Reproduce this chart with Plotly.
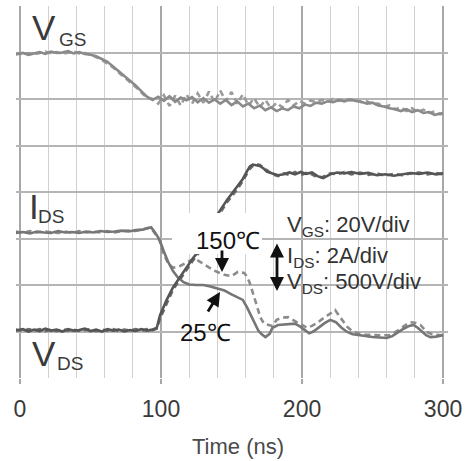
import plotly.graph_objects as go

# ---------------- data (time in ns, level in divisions) ----------------
t_vgs = [-3, 2, 6, 10, 14, 18, 22, 26, 30, 34, 38, 42, 46, 50, 54, 58, 62, 66, 70, 74,
         78, 82, 86, 90, 94, 98, 102, 106, 110, 114, 118, 122, 126, 130, 134, 138, 142,
         146, 150, 154, 158, 162, 166, 170, 174, 178, 182, 186, 190, 194, 198, 202, 206,
         210, 214, 218, 222, 226, 230, 234, 238, 242, 246, 250, 254, 258, 262, 266, 270,
         274, 278, 282, 286, 290, 294, 298, 300]
vgs_25 = [6.96, 6.99, 6.95, 6.98, 7.01, 6.97, 7.02, 6.99, 7.00, 7.03, 6.98, 7.01, 6.97,
          6.95, 6.92, 6.86, 6.80, 6.70, 6.60, 6.50, 6.40, 6.29, 6.17, 6.05, 5.98, 6.05,
          5.96, 6.06, 5.94, 6.03, 5.97, 6.04, 5.93, 6.02, 5.92, 5.99, 5.90, 5.98, 5.87,
          5.95, 5.84, 5.90, 5.80, 5.86, 5.76, 5.82, 5.74, 5.80, 5.76, 5.84, 5.80, 5.88,
          5.85, 5.92, 5.90, 5.95, 5.93, 5.98, 5.95, 5.99, 5.96, 5.94, 5.90, 5.92, 5.86,
          5.84, 5.80, 5.78, 5.74, 5.78, 5.72, 5.76, 5.70, 5.72, 5.66, 5.68, 5.70]
vgs_150 = [6.98, 6.97, 6.99, 6.96, 6.99, 7.02, 6.98, 7.01, 6.97, 7.00, 7.02, 6.98, 6.99,
           6.96, 6.90, 6.84, 6.76, 6.68, 6.57, 6.47, 6.37, 6.26, 6.14, 6.03, 6.00, 5.90,
           6.08, 5.85, 6.07, 5.86, 6.10, 5.90, 6.12, 5.92, 6.16, 5.93, 6.18, 5.95, 6.15,
           5.90, 6.10, 5.86, 6.02, 5.82, 5.98, 5.80, 5.92, 5.82, 5.98, 5.86, 5.96, 5.90,
           5.97, 5.93, 5.98, 5.94, 6.00, 5.96, 6.00, 5.97, 5.98, 5.93, 5.95, 5.89, 5.90,
           5.83, 5.86, 5.78, 5.82, 5.74, 5.80, 5.72, 5.77, 5.70, 5.73, 5.67, 5.69]

t_ids_25 = [-3, 2, 7, 12, 17, 22, 27, 32, 37, 42, 47, 52, 57, 62, 67, 72, 77, 82, 87, 91,
            93, 96, 99, 102, 105, 108.5, 112, 116, 120, 125, 130, 135, 140, 145, 150, 154,
            158, 161, 163, 165, 167, 169, 171, 174, 177, 179, 183, 187, 191, 195, 199, 202,
            205, 208, 212, 216, 220, 224, 228, 232, 236, 240, 245, 250, 255, 260, 264, 268,
            272, 276, 279, 282, 285, 288, 291, 295, 300]
ids_25 = [3.12, 3.14, 3.11, 3.15, 3.13, 3.12, 3.16, 3.13, 3.14, 3.12, 3.15, 3.13, 3.16,
          3.14, 3.15, 3.17, 3.15, 3.18, 3.19, 3.22, 3.24, 3.12, 2.97, 2.72, 2.50, 2.30,
          2.16, 2.06, 2.01, 2.00, 2.00, 1.97, 1.92, 1.88, 1.80, 1.74, 1.68, 1.52, 1.40,
          1.27, 1.13, 1.02, 0.95, 0.88, 0.95, 1.08, 1.14, 1.15, 1.16, 1.17, 1.10, 1.02,
          0.96, 1.00, 1.10, 1.18, 1.25, 1.20, 1.08, 0.99, 0.94, 0.92, 0.90, 0.88, 0.87,
          0.86, 0.90, 0.98, 1.06, 1.12, 1.14, 1.08, 1.00, 0.92, 0.88, 0.89, 0.92]

t_ids_150 = [-3, 2, 7, 12, 17, 22, 27, 32, 37, 42, 47, 52, 57, 62, 67, 72, 77, 82, 87, 91,
             93, 96, 99, 101.5, 105, 108.5, 113.5, 117, 120.5, 124.5, 129, 133, 137, 140,
             145, 150, 154.5, 159, 161, 163, 165, 166.7, 168.5, 170.5, 173, 176, 179, 182,
             186, 190, 193, 196.5, 200, 203.5, 207, 210.5, 214, 218.5, 223.5, 227, 232,
             236, 240, 245, 250, 256, 262, 267, 271.5, 276.5, 280, 284, 288.5, 293, 300]
ids_150 = [3.15, 3.12, 3.16, 3.13, 3.15, 3.14, 3.12, 3.15, 3.12, 3.16, 3.13, 3.15, 3.13,
           3.16, 3.13, 3.16, 3.17, 3.16, 3.20, 3.23, 3.22, 3.10, 2.95, 2.69, 2.47, 2.37,
           2.41, 2.47, 2.52, 2.56, 2.47, 2.39, 2.32, 2.28, 2.22, 2.19, 2.28, 2.26, 2.18,
           2.04, 1.84, 1.68, 1.46, 1.30, 1.17, 1.14, 1.12, 1.25, 1.30, 1.31, 1.26, 1.20,
           1.14, 1.08, 1.12, 1.18, 1.26, 1.35, 1.46, 1.31, 1.10, 1.00, 0.96, 0.93, 0.92,
           0.92, 0.92, 1.00, 1.10, 1.20, 1.19, 1.14, 0.99, 0.93, 0.92]

t_vds = [-3, 2, 6, 10, 14, 18, 22, 26, 30, 34, 38, 42, 46, 50, 54, 58, 62, 66, 70, 74, 78,
         82, 86, 90, 94, 97, 99.3, 104, 108.5, 113.5, 118.4, 122.7, 127.7, 134, 139.7,
         146.8, 153.9, 158, 161, 163, 165, 168, 170, 173, 175, 179, 183, 187, 191, 195,
         199, 203, 207, 211, 215, 220, 225, 230, 235, 241, 247, 253, 259, 265, 271, 277,
         283, 289, 295, 300]
vds_25 = [1.02, 1.05, 1.00, 1.04, 1.01, 1.06, 1.02, 1.04, 1.00, 1.05, 1.02, 1.03, 1.06,
          1.01, 1.04, 1.00, 1.05, 1.02, 1.04, 1.00, 1.03, 1.01, 1.05, 1.02, 1.04, 1.08,
          1.35, 1.68, 1.95, 2.17, 2.39, 2.58, 2.76, 3.15, 3.50, 3.83, 4.10, 4.28, 4.45,
          4.55, 4.59, 4.58, 4.56, 4.50, 4.44, 4.40, 4.36, 4.38, 4.42, 4.38, 4.43, 4.39,
          4.42, 4.34, 4.30, 4.38, 4.42, 4.40, 4.43, 4.39, 4.41, 4.36, 4.38, 4.35, 4.38,
          4.41, 4.39, 4.42, 4.38, 4.40]
vds_150 = [1.04, 1.01, 1.05, 1.02, 1.05, 1.01, 1.04, 1.01, 1.05, 1.02, 1.04, 1.01, 1.03,
           1.05, 1.01, 1.04, 1.02, 1.05, 1.01, 1.04, 1.02, 1.05, 1.02, 1.05, 1.03, 1.06,
           1.28, 1.60, 1.90, 2.12, 2.34, 2.53, 2.72, 3.10, 3.45, 3.78, 4.05, 4.24, 4.40,
           4.50, 4.56, 4.60, 4.58, 4.52, 4.47, 4.38, 4.34, 4.40, 4.37, 4.43, 4.36, 4.41,
           4.38, 4.31, 4.33, 4.40, 4.38, 4.43, 4.38, 4.42, 4.37, 4.40, 4.35, 4.39, 4.36,
           4.40, 4.42, 4.38, 4.41, 4.38]

x_ticks = [0, 100, 200, 300]
x_tick_text = ["0", "100", "200", "300"]
x_title = "Time (ns)"

# ---------------- layout geometry helpers ----------------
W, H = 465, 461
L_M, R_M, T_M, B_M = 16, 17, 6, 83
PW, PH = W - L_M - R_M, H - T_M - B_M


def P(px, py):
    """pixel -> paper coordinates"""
    return (px - L_M) / PW, (H - B_M - py) / PH


FONT = "Liberation Sans, Arial, sans-serif"

fig = go.Figure()

DASH = "6px,4px"
traces = [
    (t_vgs, vgs_150, "#9a9a9a", DASH),
    (t_vgs, vgs_25, "#8a8a8a", "solid"),
    (t_ids_150, ids_150, "#8c8c8c", DASH),
    (t_ids_25, ids_25, "#767676", "solid"),
    (t_vds, vds_150, "#6a6a6a", DASH),
    (t_vds, vds_25, "#555555", "solid"),
]
for x, y, c, d in traces:
    fig.add_trace(go.Scatter(x=x, y=y, mode="lines",
                             line=dict(color=c, width=2.6, dash=d),
                             showlegend=False, hoverinfo="skip"))

shapes = []
# white box behind the 150 C label
x0, y0 = P(172, 254)
x1, y1 = P(262, 213)
shapes.append(dict(type="rect", xref="paper", yref="paper", x0=x0, y0=y0, x1=x1, y1=y1,
                   fillcolor="white", line=dict(width=0), layer="above"))

annotations = []


def txt(s, px, py, size, color="#3a3a3a", xanchor="center"):
    xp, yp = P(px, py)
    annotations.append(dict(text=s, x=xp, y=yp, xref="paper", yref="paper",
                            xanchor=xanchor, yanchor="middle", showarrow=False,
                            font=dict(family=FONT, size=size, color=color)))


def arrow(hx, hy, tx, ty, both=False):
    xp, yp = P(hx, hy)
    annotations.append(dict(text="", x=xp, y=yp, xref="paper", yref="paper",
                            ax=tx - hx, ay=ty - hy, showarrow=True,
                            arrowhead=2, arrowsize=1.0, arrowwidth=2.8,
                            arrowcolor="#111111",
                            arrowside="end+start" if both else "end",
                            startarrowhead=2, startarrowsize=1.0))


txt("V", 43.5, 28, 35)
txt("GS", 72, 39, 19)
txt("I", 33.5, 206, 35)
txt("DS", 51, 217, 19)
txt("V", 43.5, 353, 35)
txt("DS", 70, 363, 19)
txt("150℃", 228, 240, 24, "#111111")
txt("25℃", 205, 332, 24, "#111111")
txt("V<sub>GS</sub>: 20V/div", 285, 226, 22, "#333333", "left")
txt("I<sub>DS</sub>: 2A/div", 285, 257, 22, "#333333", "left")
txt("V<sub>DS</sub>: 500V/div", 285, 283, 22, "#333333", "left")
txt(x_title, 237.5, 446, 22, "#4a4a4a")

arrow(222, 272, 222, 249)
arrow(220, 292, 207, 313)
arrow(277, 291, 277, 242, both=True)

fig.update_layout(
    width=W, height=H,
    margin=dict(l=L_M, r=R_M, t=T_M, b=B_M, autoexpand=False),
    paper_bgcolor="white", plot_bgcolor="white",
    shapes=shapes, annotations=annotations,
    xaxis=dict(range=[-2.84, 303.5], tickmode="array", tickvals=x_ticks,
               ticktext=x_tick_text, showgrid=True, gridcolor="#a8a8a8", gridwidth=1.5,
               minor=dict(dtick=20, tick0=0, showgrid=True, gridcolor="#d0d0d0",
                          gridwidth=1.2),
               ticks="outside", ticklen=5, tickwidth=1.5, tickcolor="#a8a8a8",
               ticklabelstandoff=5, automargin=False,
               tickfont=dict(family=FONT, size=23, color="#3a3a3a"),
               zeroline=False, showline=False),
    yaxis=dict(range=[0, 8], dtick=1, tick0=0, showgrid=True, gridcolor="#b5b5b5",
               gridwidth=1.6, showticklabels=False, zeroline=False, showline=False,
               ticks="", automargin=False),
)

fig.write_html("out.html")
